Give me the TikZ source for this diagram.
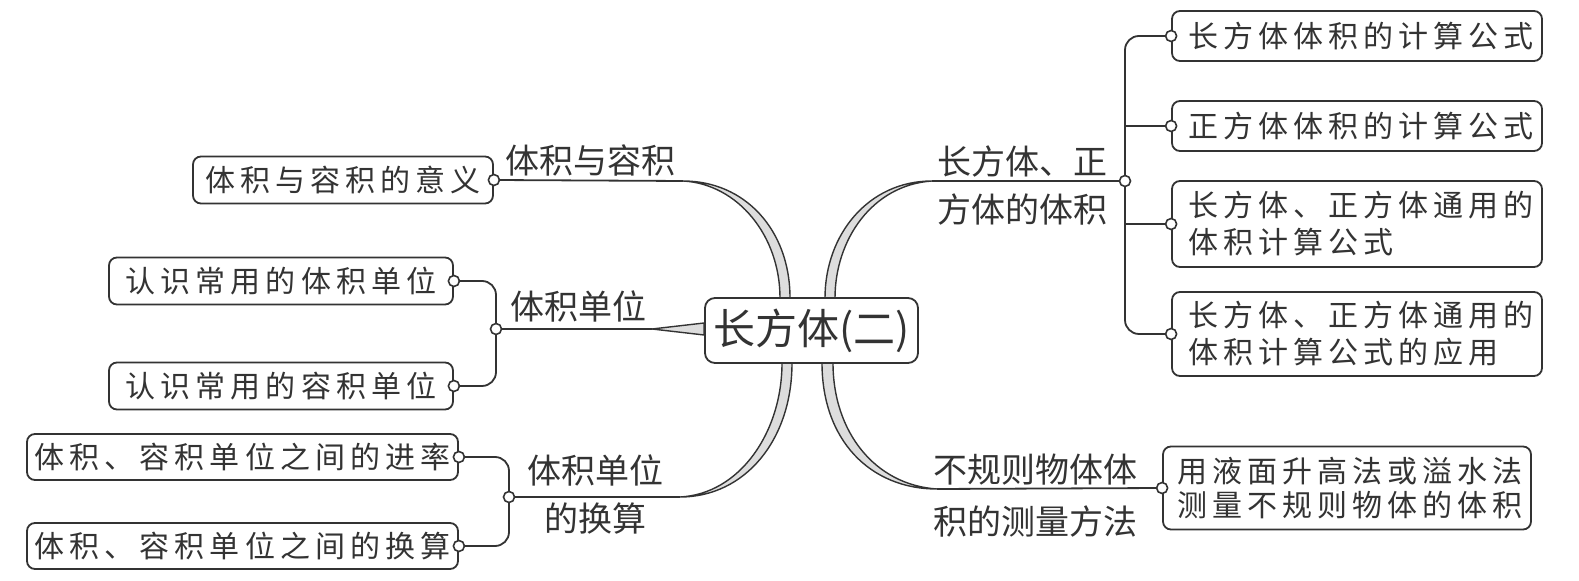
\documentclass[tikz,border=0pt]{standalone}
\usepackage{fontspec}
\setmainfont{Noto Sans CJK SC}
\newfontfamily\bxfont{Noto Sans CJK SC}[LetterSpace=17]
\newfontfamily\lbfont{Noto Sans CJK SC}
\usetikzlibrary{backgrounds,calc}
\definecolor{ink}{HTML}{333333}
\definecolor{band}{HTML}{DDDDDD}
\begin{document}
\begin{tikzpicture}[x=0.5pt,y=-0.5pt,
  box/.style={draw=ink, line width=0.9pt, rounded corners=4pt, fill=white, inner sep=0pt,
    text=ink, font=\bxfont\fontsize{15pt}{18.5pt}\selectfont, align=center},
  rbox/.style={box, minimum width=185pt, text width=169pt, align=left},
  cbox/.style={draw=ink, line width=0.9pt, rounded corners=5pt, fill=white, inner sep=0pt,
    text=ink, font=\lbfont\fontsize{21pt}{24pt}\selectfont},
  lbl/.style={inner sep=0pt, text=ink, font=\lbfont\fontsize{17pt}{24pt}\selectfont, align=center},
  dot/.style={circle, draw=ink, fill=white, line width=0.8pt, inner sep=0pt, minimum size=5.5pt},
  conn/.style={draw=ink, line width=0.9pt},
  taper/.style={draw=ink, fill=band, line width=0.7pt, line join=round}
]
\useasboundingbox (0,0) rectangle (1579,581);

% central box
\node[cbox, minimum width=106.5pt, minimum height=32.5pt] (c) at (811.5,330.5) {长方体(二)};

% left boxes
\node[box, minimum width=150pt, minimum height=23.5pt] (l1) at (343,180) {体积与容积的意义};
\node[box, minimum width=172pt, minimum height=23.5pt] (l2) at (281,281) {认识常用的体积单位};
\node[box, minimum width=172pt, minimum height=23.5pt] (l3) at (281,386) {认识常用的容积单位};
\node[box, minimum width=215.5pt, minimum height=23pt] (l4) at (242.5,457) {体积、容积单位之间的进率};
\node[box, minimum width=215.5pt, minimum height=23pt] (l5) at (242.5,546) {体积、容积单位之间的换算};

% right boxes
\node[rbox, minimum height=25pt] (r1) at (1357,36) {长方体体积的计算公式};
\node[rbox, minimum height=25pt] (r2) at (1357,126) {正方体体积的计算公式};
\node[rbox, minimum height=43pt] (r3) at (1357,224) {长方体、正方体通用的\\体积计算公式};
\node[rbox, minimum height=42pt] (r4) at (1357,334) {长方体、正方体通用的\\体积计算公式的应用};
\node[rbox, minimum width=184pt, text width=170pt, minimum height=41.5pt,
  font=\bxfont\fontsize{15pt}{17pt}\selectfont] (r5) at (1347,488) {用液面升高法或溢水法\\测量不规则物体的体积};

% branch labels
\node[lbl] (t1) at (590,160) {体积与容积};
\node[lbl] (t2) at (578,306) {体积单位};
\node[lbl] (t3) at (595,494) {体积单位\\的换算};
\node[lbl] (tA) at (1022,186) {长方体、正\\方体的体积};
\node[lbl, font=\lbfont\fontsize{17pt}{26pt}\selectfont] (tB) at (1035,496) {不规则物体体\\积的测量方法};

% coordinates
\coordinate (k1) at (683,181);
\coordinate (k2) at (652,329);
\coordinate (k3) at (680,497);
\coordinate (kA) at (932,181);
\coordinate (kB) at (937,489);
\coordinate (jL2) at (496,329);
\coordinate (jL3) at (509,497);
\coordinate (jA) at (1125,181);

\begin{pgfonlayer}{background}
  \fill[white] (0,0) rectangle (1579,581);
  % tapered branches
  \path[taper] (k1) .. controls (745,181) and (790,230) .. (790,298) -- (780,298)
     .. controls (780,236) and (738,184) .. (k1) -- cycle;
  \path[taper] (k2) -- (c.west |- 0,323) -- (c.west |- 0,335) -- cycle;
  \path[taper] (k3) .. controls (745,497) and (792,440) .. (792,363) -- (782,363)
     .. controls (782,432) and (740,494) .. (k3) -- cycle;
  \path[taper] (kA) .. controls (868,181) and (825,235) .. (825,298) -- (835,298)
     .. controls (835,240) and (872,185) .. (kA) -- cycle;
  \path[taper] (kB) .. controls (870,489) and (822,440) .. (822,363) -- (833,363)
     .. controls (833,432) and (875,485) .. (kB) -- cycle;
  % straight parts
  \draw[conn] (l1.east) -- (k1);
  \draw[conn] (jL2) -- (k2);
  \draw[conn] (jL3) -- (k3);
  \draw[conn] (kA) -- (jA);
  \draw[conn] (kB) -- (r5.west);
  % brackets
  \draw[conn, rounded corners=7pt] (l2.east) -| (jL2 |- l3.east) -- (l3.east);
  \draw[conn, rounded corners=7pt] (l4.east) -| (jL3 |- l5.east) -- (l5.east);
  \draw[conn, rounded corners=7pt] (r1.west) -| (jA |- r4.west) -- (r4.west);
  \draw[conn] (jA |- r2.west) -- (r2.west);
  \draw[conn] (jA |- r3.west) -- (r3.west);
\end{pgfonlayer}

% dots
\node[dot] at (l1.east) {};
\node[dot] at (l2.east) {};
\node[dot] at (l3.east) {};
\node[dot] at (l4.east) {};
\node[dot] at (l5.east) {};
\node[dot] at (jL2) {};
\node[dot] at (jL3) {};
\node[dot] at (jA) {};
\node[dot] at (r1.west) {};
\node[dot] at (r2.west) {};
\node[dot] at (r3.west) {};
\node[dot] at (r4.west) {};
\node[dot] at (r5.west) {};
\end{tikzpicture}
\end{document}
